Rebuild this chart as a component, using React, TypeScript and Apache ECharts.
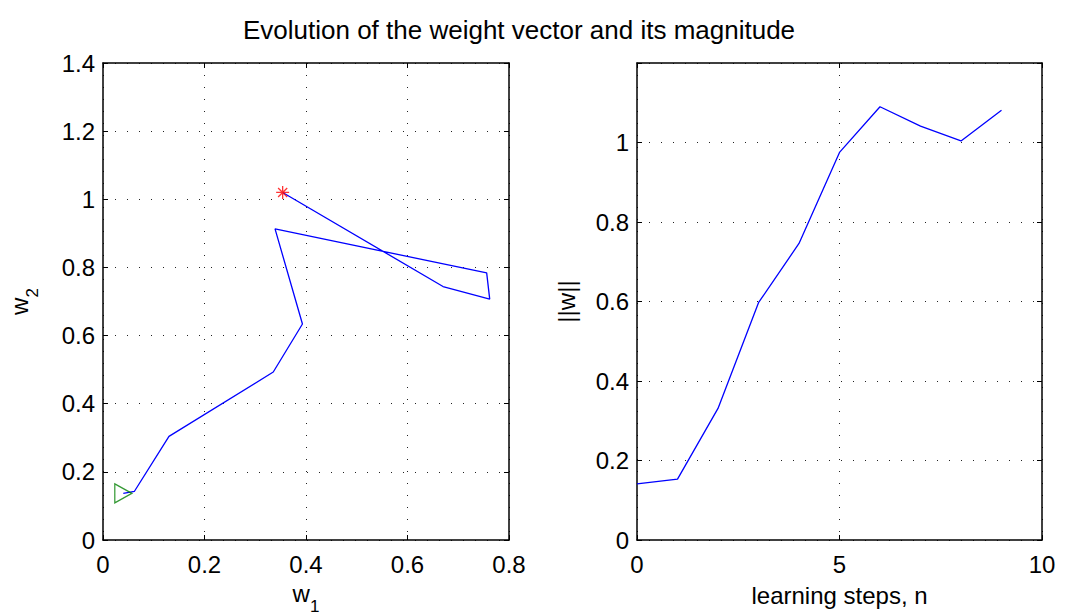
import React, { useEffect, useRef } from "react";
import * as echarts from "echarts";

const w1 = [0.04, 0.062, 0.13, 0.3355, 0.393, 0.339, 0.756, 0.762, 0.67, 0.354];
const w2 = [0.137, 0.143, 0.304, 0.493, 0.634, 0.913, 0.784, 0.707, 0.744, 1.02];
const steps = [0, 1, 2, 3, 4, 5, 6, 7, 8, 9];
const wNorm = [0.141, 0.153, 0.331, 0.597, 0.746, 0.975, 1.09, 1.041, 1.004, 1.081];

const titleText = "Evolution of the weight vector and its magnitude";
const FONT = "Liberation Sans, Arial, Helvetica, sans-serif";

export default function App() {
  const ref = useRef<HTMLDivElement>(null);
  useEffect(() => {
    if (!ref.current) return;
    const chart = echarts.init(ref.current, null, { renderer: "svg" });
    const labelStyle = { color: "#000", fontSize: 24, fontFamily: FONT };
    const split = { show: true, lineStyle: { color: "#222", width: 1, type: [1, 11] as any } };
    const line = { show: true, onZero: false, lineStyle: { color: "#000", width: 1.5 } };
    const tick = { show: true, inside: true, length: 5, lineStyle: { color: "#000", width: 1 } };
    const mainX = (gi: number, min: number, max: number, interval: number, fmt: (v: number) => string, name: any) => ({
      type: "value", gridIndex: gi, min, max, interval, position: "bottom",
      axisLine: line, axisTick: tick, splitLine: split,
      axisLabel: { ...labelStyle, margin: 12, formatter: fmt },
      ...name,
    });
    const mainY = (gi: number, min: number, max: number, interval: number, fmt: (v: number) => string, name: any) => ({
      type: "value", gridIndex: gi, min, max, interval, position: "left",
      axisLine: line, axisTick: tick, splitLine: split,
      axisLabel: { ...labelStyle, margin: 8, formatter: fmt },
      ...name,
    });
    const boxX = (gi: number, min: number, max: number, interval: number) => ({
      type: "value", gridIndex: gi, min, max, interval, position: "top",
      axisLine: line, axisTick: tick, splitLine: { show: false }, axisLabel: { show: false },
    });
    const boxY = (gi: number, min: number, max: number, interval: number) => ({
      type: "value", gridIndex: gi, min, max, interval, position: "right",
      axisLine: line, axisTick: tick, splitLine: { show: false }, axisLabel: { show: false },
    });
    const f1 = (v: number) => (Math.abs(v) < 1e-9 ? "0" : String(Math.round(v * 10) / 10));
    const fInt = (v: number) => String(Math.round(v));
    const fRight = (v: number) => (v > 1.1 ? "" : f1(v));
    const subRich = {
      w: { fontSize: 24, fontFamily: FONT, color: "#000", verticalAlign: "top", lineHeight: 24 },
      s: { fontSize: 17, fontFamily: FONT, color: "#000", verticalAlign: "bottom", lineHeight: 34 },
    };

    const leftPts = w1.map((x, i) => [x, w2[i]]);
    const rightPts = steps.map((n, i) => [n, wNorm[i]]);

    chart.setOption({
      animation: false,
      backgroundColor: "#fff",
      title: {
        text: titleText, left: 514, top: 12, textAlign: "center",
        textStyle: { color: "#000", fontSize: 26, fontWeight: "normal", fontFamily: FONT },
      },
      grid: [
        { left: 103, top: 63, width: 406, height: 477, containLabel: false, outerBoundsMode: "none" },
        { left: 637, top: 63, width: 405, height: 477, containLabel: false, outerBoundsMode: "none" },
      ],
      xAxis: [
        mainX(0, 0, 0.8, 0.2, f1, {
          name: "{w|w}{s|1}", nameLocation: "middle", nameGap: 41,
          nameTextStyle: { color: "#000", fontFamily: FONT, rich: subRich },
        }),
        mainX(1, 0, 10, 5, fInt, {
          name: "learning steps, n", nameLocation: "middle", nameGap: 43,
          nameTextStyle: { color: "#000", fontSize: 24, fontFamily: FONT },
        }),
        boxX(0, 0, 0.8, 0.2),
        boxX(1, 0, 10, 5),
      ],
      yAxis: [
        mainY(0, 0, 1.4, 0.2, f1, {
          name: "{w|w}{s|2}", nameLocation: "middle", nameGap: 62, nameRotate: 90,
          nameTextStyle: { color: "#000", fontFamily: FONT, rich: subRich },
        }),
        mainY(1, 0, 1.2, 0.2, fRight, {
          name: "||w||", nameLocation: "middle", nameGap: 59, nameRotate: 90,
          nameTextStyle: { color: "#000", fontSize: 24, fontFamily: FONT },
        }),
        boxY(0, 0, 1.4, 0.2),
        boxY(1, 0, 1.2, 0.2),
      ],
      series: [
        {
          type: "line", xAxisIndex: 0, yAxisIndex: 0, data: leftPts,
          showSymbol: false, symbol: "none", lineStyle: { color: "#0000ff", width: 1.3 },
        },
        {
          type: "scatter", xAxisIndex: 0, yAxisIndex: 0, data: [leftPts[0]],
          symbol: "triangle", symbolRotate: -90, symbolSize: [19, 17],
          itemStyle: { color: "rgba(0,0,0,0)", borderColor: "#008000", borderWidth: 1.3 },
          z: 5,
        },
        {
          type: "scatter", xAxisIndex: 0, yAxisIndex: 0, data: [leftPts[leftPts.length - 1]],
          symbol: "path://M10,0L10,20M0,10L20,10M3,3L17,17M3,17L17,3", symbolSize: 13,
          itemStyle: { color: "rgba(0,0,0,0)", borderColor: "#ff0000", borderWidth: 1.3 },
          z: 5,
        },
        {
          type: "line", xAxisIndex: 1, yAxisIndex: 1, data: rightPts,
          showSymbol: false, symbol: "none", lineStyle: { color: "#0000ff", width: 1.3 },
        },
      ],
    });
    return () => chart.dispose();
  }, []);
  return (
    <div
      ref={ref}
      style={{ position: "fixed", left: 0, top: 0, width: 1065, height: 616, background: "#fff" }}
    />
  );
}
